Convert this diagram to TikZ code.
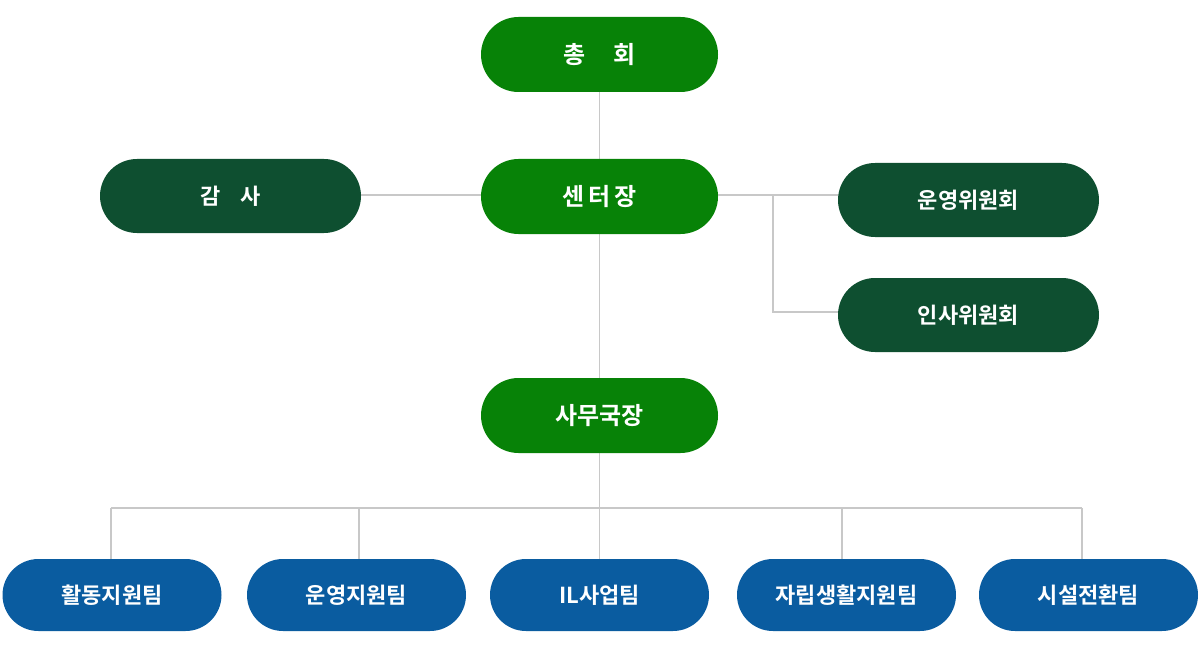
\documentclass[tikz,border=0pt]{standalone}
\usepackage{fontspec}
\setmainfont{Noto Sans CJK KR}[BoldFont={* Bold}]
\begin{document}
\begin{tikzpicture}[x=1pt,y=-1pt,
 box/.style={rounded rectangle,draw=none,text=white,font=\bfseries\fontsize{24}{26}\selectfont,inner sep=0pt},
 ln/.style={draw=lgray,line width=1.3pt}]
\usetikzlibrary{shapes.misc}
\definecolor{gmain}{HTML}{078207}
\definecolor{gdark}{HTML}{0E4F30}
\definecolor{bmain}{HTML}{0A5CA0}
\definecolor{lgray}{HTML}{C8C8C8}
\useasboundingbox (0,0) rectangle (1200,666);
\tikzset{big/.style={box,minimum width=237pt,minimum height=75pt},
 side/.style={box,minimum width=261pt,minimum height=74pt,fill=gdark,font=\bfseries\fontsize{22}{24}\selectfont},
 low/.style={box,minimum width=219pt,minimum height=72pt,fill=bmain,font=\bfseries\fontsize{22}{24}\selectfont}}
\coordinate (b0) at (599.5,508);
\coordinate (bl) at (111,508);
\coordinate (br) at (1082,508);
\coordinate (j1) at (773,195);
\coordinate (j2) at (773,312);
\draw[ln] (599.5,92) -- (599.5,559);
\draw[ln] (361,195) -- (481,195);
\draw[ln] (718,195) -- (838,195);
\draw[ln] (j1) -- (j2) -- (838,312);
\draw[ln] (bl) -- (br);
\foreach \x in {111,359,842,1082} \draw[ln] (\x,508) -- (\x,559);
\node[big,fill=gmain] (chong) at (599.5,54.5) {총\hspace{1.2em}회};
\node[big,fill=gmain] (center) at (599.5,196.5) {센\,터\,장};
\node[side] (gamsa) at (230.5,196) {감\hspace{0.9em}사};
\node[side] (unyeong) at (968.5,200) {운영위원회};
\node[side] (insa) at (968.5,315) {인사위원회};
\node[big,fill=gmain] (samu) at (599.5,415.5) {사무국장};
\node[low] (t1) at (112,595) {활동지원팀};
\node[low] (t2) at (356.5,595) {운영지원팀};
\node[low] (t3) at (599.5,595) {IL사업팀};
\node[low] (t4) at (846.5,595) {자립생활지원팀};
\node[low] (t5) at (1088.5,595) {시설전환팀};
\end{tikzpicture}
\end{document}
